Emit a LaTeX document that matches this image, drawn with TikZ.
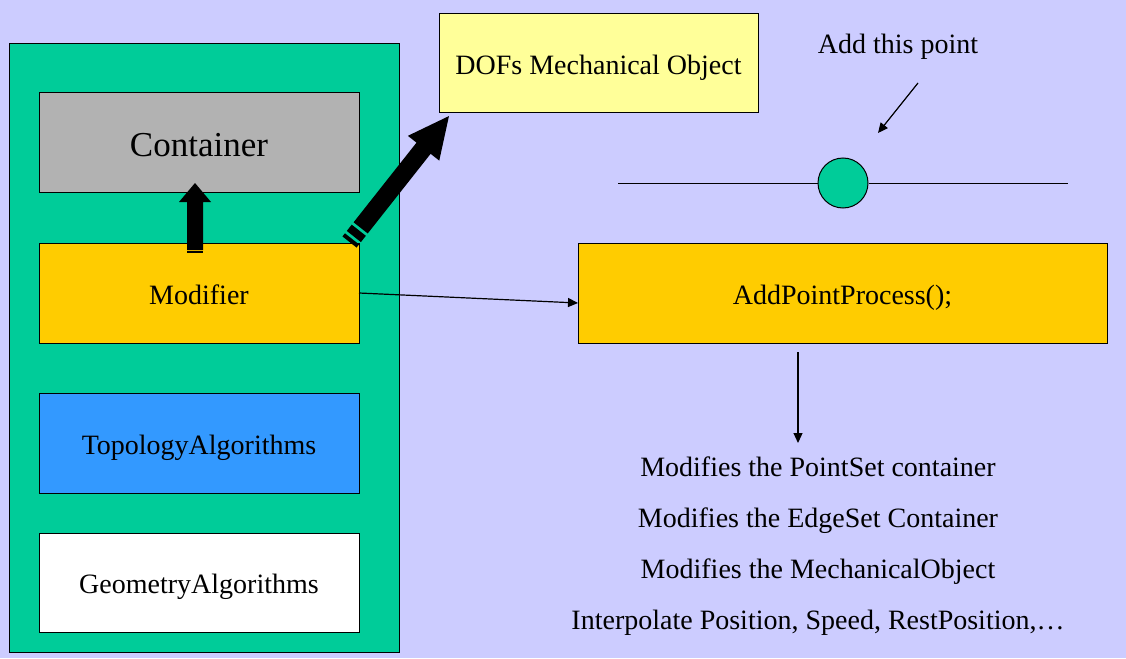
\documentclass[tikz,border=0pt]{standalone}
\usepackage{fontspec}
\setmainfont{Liberation Serif}
\usetikzlibrary{arrows.meta,calc}
\definecolor{bgc}{HTML}{CCCCFF}
\definecolor{greenc}{HTML}{00CC99}
\definecolor{grayc}{HTML}{B2B2B2}
\definecolor{orangec}{HTML}{FFCC00}
\definecolor{bluec}{HTML}{3399FF}
\definecolor{paleyellow}{HTML}{FFFF99}
\tikzset{
  box/.style={draw=black, line width=1pt, rectangle, inner sep=0pt, outer sep=0pt,
    font=\fontsize{28}{34}\selectfont, text height=22.6pt, text depth=0pt},
  thin arrow/.style={draw=black, line width=1.2pt, -{Triangle[length=10pt,width=9pt]}},
  label text/.style={font=\fontsize{28}{34}\selectfont, inner sep=0pt, anchor=base},
  block/.style={fill=black}
}
\begin{document}
\begin{tikzpicture}[x=1pt,y=-1pt]
\useasboundingbox (0,0) rectangle (1126,658);
\fill[bgc] (0,0) rectangle (1126,658);

% outer green panel
\node[box, fill=greenc, minimum width=390pt, minimum height=608pt] (outer) at (204,348) {};
\node[box, fill=grayc, minimum width=320pt, minimum height=99pt, font=\fontsize{35}{42}\selectfont, text height=27pt] (cont) at (199,142.5) {Container};
\node[box, fill=orangec, minimum width=320pt, minimum height=100pt] (mod) at (199,293) {Modifier};
\node[box, fill=bluec, minimum width=320pt, minimum height=100pt] (topo) at (199,443) {TopologyAlgorithms};
\node[box, fill=white, minimum width=320pt, minimum height=99pt] (geom) at (199,582.5) {GeometryAlgorithms};

\node[box, fill=paleyellow, minimum width=319pt, minimum height=99pt] (dofs) at (598.5,63.5) {DOFs Mechanical Object};
\node[box, fill=orangec, minimum width=529pt, minimum height=100pt] (app) at (842.5,293) {AddPointProcess();};

% thick up arrow (Modifier -> Container)
\coordinate (ua) at ($(mod.north)+(-4,10)$);
\begin{scope}[shift={(ua)}, rotate=90]
  \fill[block] (0,-8) rectangle (2,8);
  \fill[block] (3,-8) -- (51,-8) -- (51,-16) -- (70,0) -- (51,16) -- (51,8) -- (3,8) -- cycle;
\end{scope}

% thick diagonal arrow (Modifier -> DOFs)
\coordinate (da) at ($(mod.north east)+(-9.5,-1)$);
\begin{scope}[shift={(da)}, rotate=51.7]
  \fill[block] (0,-9) rectangle (4,9);
  \fill[block] (7,-9) rectangle (15,9);
  \fill[block] (18,-9) -- (119.5,-9) -- (119.5,-20) -- (160.5,0) -- (119.5,20) -- (119.5,9) -- (18,9) -- cycle;
\end{scope}

% thin arrow Modifier -> AddPointProcess
\draw[thin arrow] (mod.east) -- ($(app.west)+(0,10)$);

% point on a line
\node[draw=black, line width=1pt, circle, fill=greenc, minimum size=50pt, inner sep=0pt] (pt) at (843,183) {};
\coordinate (lineL) at (618,183);
\coordinate (lineR) at (1068,183);
\draw[line width=1pt] (lineL) -- (pt.west);
\draw[line width=1pt] (pt.east) -- (lineR);

\node[label text] (addlbl) at (898,53.3) {Add this point};
\coordinate (addA) at (918,83);
\coordinate (addB) at (878,133);
\draw[thin arrow] (addA) -- (addB);

% down arrow and list
\coordinate (dnA) at ($(app.south)+(-44.5,9)$);
\coordinate (dnB) at ($(app.south)+(-44.5,100)$);
\draw[thin arrow] (dnA) -- (dnB);

\node[label text] (t1) at (818,476.7) {Modifies the PointSet container};
\node[label text] (t2) at (818,527.3) {Modifies the EdgeSet Container};
\node[label text] (t3) at (818,578.3) {Modifies the MechanicalObject};
\node[label text] (t4) at (818,629) {Interpolate Position, Speed, RestPosition,…};
\end{tikzpicture}
\end{document}
